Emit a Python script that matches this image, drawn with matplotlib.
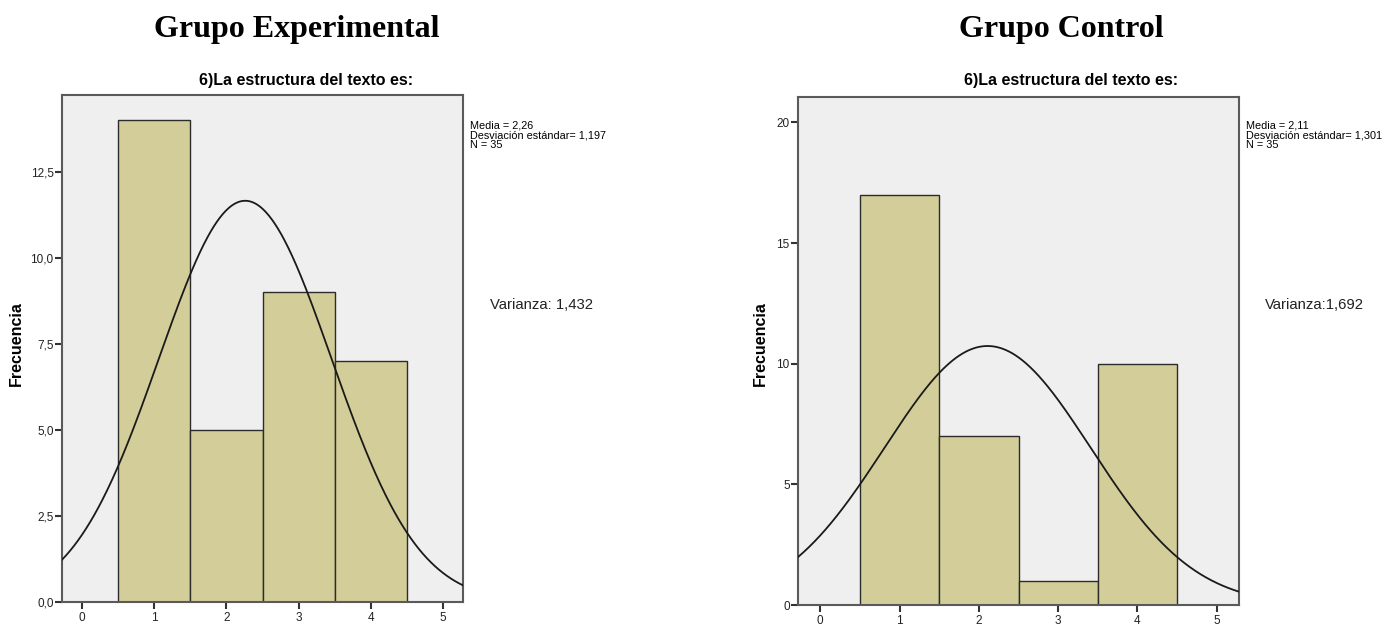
import numpy as np
import matplotlib
matplotlib.use("Agg")
import matplotlib.pyplot as plt

W, H = 1391, 628
DPI = 100

categories = [1, 2, 3, 4]
counts_exp = [14, 5, 9, 7]
counts_ctl = [17, 7, 1, 10]
mean_exp, sd_exp, n_exp, var_exp = 2.26, 1.197, 35, "1,432"
mean_ctl, sd_ctl, n_ctl, var_ctl = 2.11, 1.301, 35, "1,692"
yticks_exp = [0, 2.5, 5.0, 7.5, 10.0, 12.5]
yticks_ctl = [0, 5, 10, 15, 20]
xticks = [0, 1, 2, 3, 4, 5]

NARROW = ['Liberation Sans Narrow', 'Liberation Sans', 'DejaVu Sans']
SERIF = ['Liberation Serif', 'DejaVu Serif']

fig = plt.figure(figsize=(W / DPI, H / DPI), dpi=DPI)
fig.patch.set_facecolor('white')


def px_axes(left, top, right, bottom):
    return fig.add_axes([left / W, (H - bottom) / H, (right - left) / W, (bottom - top) / H])


def panel(ax, counts, mean, sd, n, ylim, yticks, ylabels):
    ax.set_facecolor('#efefef')
    ax.bar(categories, counts, width=1.0, color='#d3ce99', edgecolor='#2b2b2b', linewidth=1.0, zorder=2)
    xs = np.linspace(-0.28, 5.28, 400)
    ys = n * 1.0 * np.exp(-0.5 * ((xs - mean) / sd) ** 2) / (sd * np.sqrt(2 * np.pi))
    ax.plot(xs, ys, color='#1a1a1a', linewidth=1.3, zorder=3, clip_on=True)
    ax.set_xlim(-0.28, 5.28)
    ax.set_ylim(*ylim)
    ax.set_xticks(xticks)
    ax.set_xticklabels([str(t) for t in xticks], fontfamily=NARROW, fontsize=8.5, color='#222222')
    ax.set_yticks(yticks)
    ax.set_yticklabels(ylabels, fontfamily=NARROW, fontsize=8.5, color='#222222')
    for s in ax.spines.values():
        s.set_color('#5a5a5a')
        s.set_linewidth(1.5)
    ax.tick_params(axis='both', direction='out', length=5, width=1.5, color='#333333', pad=2)
    ax.tick_params(axis='y', pad=1)
    ax.set_ylabel('Frecuencia', fontfamily=['Liberation Sans', 'DejaVu Sans'], fontweight='bold',
                  fontsize=11.5)


ax1 = px_axes(62, 95, 463, 602)
panel(ax1, counts_exp, mean_exp, sd_exp, n_exp, (0, 14.74), yticks_exp,
      [f"{t:.1f}".replace('.', ',') for t in yticks_exp])
ax1.yaxis.set_label_coords(-38 / 401, 0.51)

ax2 = px_axes(798, 97, 1239, 605)
panel(ax2, counts_ctl, mean_ctl, sd_ctl, n_ctl, (0, 21.05), yticks_ctl,
      [str(t) for t in yticks_ctl])
ax2.yaxis.set_label_coords(-30 / 441, 0.515)

# Headers
fig.text(297 / W, 1 - 30 / H, 'Grupo Experimental', fontfamily=SERIF, fontweight='bold',
         fontsize=23, ha='center', va='center')
fig.text(1061 / W, 1 - 30 / H, 'Grupo Control', fontfamily=SERIF, fontweight='bold',
         fontsize=23, ha='center', va='center')

# Chart titles
fig.text(306 / W, 1 - 80 / H, '6)La estructura del texto es:', fontfamily=NARROW, fontweight='bold',
         fontsize=11.5, ha='center', va='center')
fig.text(1071 / W, 1 - 80 / H, '6)La estructura del texto es:', fontfamily=NARROW, fontweight='bold',
         fontsize=11.5, ha='center', va='center')

# Stats
fig.text(470 / W, 1 - 120 / H,
         f"Media = {str(mean_exp).replace('.', ',')}\nDesviación estándar= {str(sd_exp).replace('.', ',')}\nN = {n_exp}",
         fontfamily=NARROW, fontsize=7.8, ha='left', va='top', linespacing=1.0)
fig.text(1246 / W, 1 - 120 / H,
         f"Media = {str(mean_ctl).replace('.', ',')}\nDesviación estándar= {str(sd_ctl).replace('.', ',')}\nN = {n_ctl}",
         fontfamily=NARROW, fontsize=7.8, ha='left', va='top', linespacing=1.0)

fig.text(490 / W, 1 - 305 / H, f"Varianza: {var_exp}", fontfamily=NARROW, fontsize=10.7,
         ha='left', va='center', color='#222222')
fig.text(1265 / W, 1 - 305 / H, f"Varianza:{var_ctl}", fontfamily=NARROW, fontsize=10.7,
         ha='left', va='center', color='#222222')

fig.savefig('out.png', dpi=DPI, facecolor='white')
